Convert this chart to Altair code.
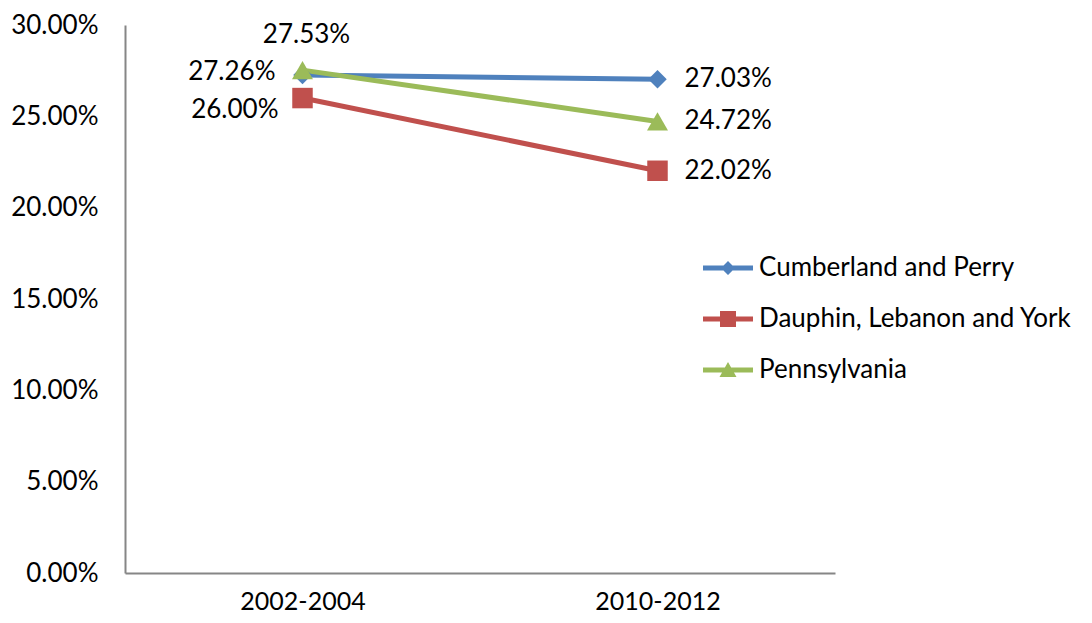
import altair as alt
import pandas as pd

series = ["Cumberland and Perry", "Dauphin, Lebanon and York", "Pennsylvania"]
periods = ["2002-2004", "2010-2012"]
cumberland = [0.2726, 0.2703]
dauphin = [0.2600, 0.2202]
pennsylvania = [0.2753, 0.2472]
y_ticks = [0.0, 0.05, 0.10, 0.15, 0.20, 0.25, 0.30]

colors = ["#4F81BD", "#C0504D", "#9BBB59"]
FONT = "Lato"
FS = 26

rows = []
for s, vals in zip(series, [cumberland, dauphin, pennsylvania]):
    for p, v in zip(periods, vals):
        rows.append({"series": s, "period": p, "value": v})
df = pd.DataFrame(rows)

legend_paths = [
    "M-1,-0.1L1,-0.1L1,0.1L-1,0.1Z M0,-0.28L0.28,0L0,0.28L-0.28,0Z",
    "M-1,-0.1L1,-0.1L1,0.1L-1,0.1Z M-0.32,-0.32L0.32,-0.32L0.32,0.32L-0.32,0.32Z",
    "M-1,-0.1L1,-0.1L1,0.1L-1,0.1Z M0,-0.32L0.34,0.28L-0.34,0.28Z",
]

x_enc = alt.X("period:N", scale=alt.Scale(type="point", padding=0.5, domain=periods),
              axis=alt.Axis(title=None, labelAngle=0, labelPadding=16, labelFontSize=25))
y_enc = alt.Y("value:Q", scale=alt.Scale(domain=[0, 0.3], nice=False, zero=True),
              axis=alt.Axis(title=None, values=y_ticks, format=".2%", labelPadding=27))
color_nolegend = alt.Color("series:N", scale=alt.Scale(domain=series, range=colors), legend=None)

base = alt.Chart(df)

legend_layer = base.transform_filter("false").mark_point(filled=True, opacity=1).encode(
    x=x_enc, y=y_enc,
    color=alt.Color("series:N", scale=alt.Scale(domain=series, range=colors),
                    legend=alt.Legend(title=None, orient="none", legendX=578, legendY=218)),
    shape=alt.Shape("series:N", scale=alt.Scale(domain=series, range=legend_paths),
                    legend=alt.Legend(title=None, orient="none", legendX=578, legendY=218)),
)

lines = base.mark_line(strokeWidth=5).encode(x=x_enc, y=y_enc, color=color_nolegend)

marker_shapes = ["diamond", "square", "triangle-up"]
marker_sizes = [340, 420, 440]
points = [
    base.transform_filter(alt.datum.series == s).mark_point(
        shape=sh, filled=True, size=sz, opacity=1
    ).encode(x=x_enc, y=y_enc, color=color_nolegend)
    for s, sh, sz in zip(series, marker_shapes, marker_sizes)
]

text_fmt = dict(text=alt.Text("value:Q", format=".2%"))
right_labels = base.transform_filter(alt.datum.period == periods[1]).mark_text(
    align="left", baseline="middle", dx=27, font=FONT, fontSize=FS, color="black"
).encode(x=x_enc, y=y_enc, **text_fmt)

left_specs = [
    (series[0], "right", -27, -3),
    (series[1], "right", -24, 12),
    (series[2], "center", 4, -35),
]
left_labels = [
    base.transform_filter((alt.datum.period == periods[0]) & (alt.datum.series == s)).mark_text(
        align=al, baseline="middle", dx=dx, dy=dy, font=FONT, fontSize=FS, color="black"
    ).encode(x=x_enc, y=y_enc, **text_fmt)
    for s, al, dx, dy in left_specs
]

chart = alt.layer(legend_layer, lines, *points, right_labels, *left_labels).properties(
    width=710, height=548,
    autosize=alt.AutoSizeParams(type="none"),
    padding={"left": 117, "top": 17, "right": 249, "bottom": 42},
).configure_view(stroke=None).configure_axis(
    domainColor="#868686", domainWidth=2, ticks=False, grid=False,
    labelFont=FONT, labelFontSize=FS, labelColor="black",
).configure_legend(
    labelFont=FONT, labelFontSize=FS, labelColor="black", symbolSize=2500,
    symbolStrokeWidth=0, labelOffset=6, rowPadding=13, padding=0, symbolOpacity=1,
    labelLimit=500,
)

chart.save("out.html", embed_options={"renderer": "svg", "actions": False})
